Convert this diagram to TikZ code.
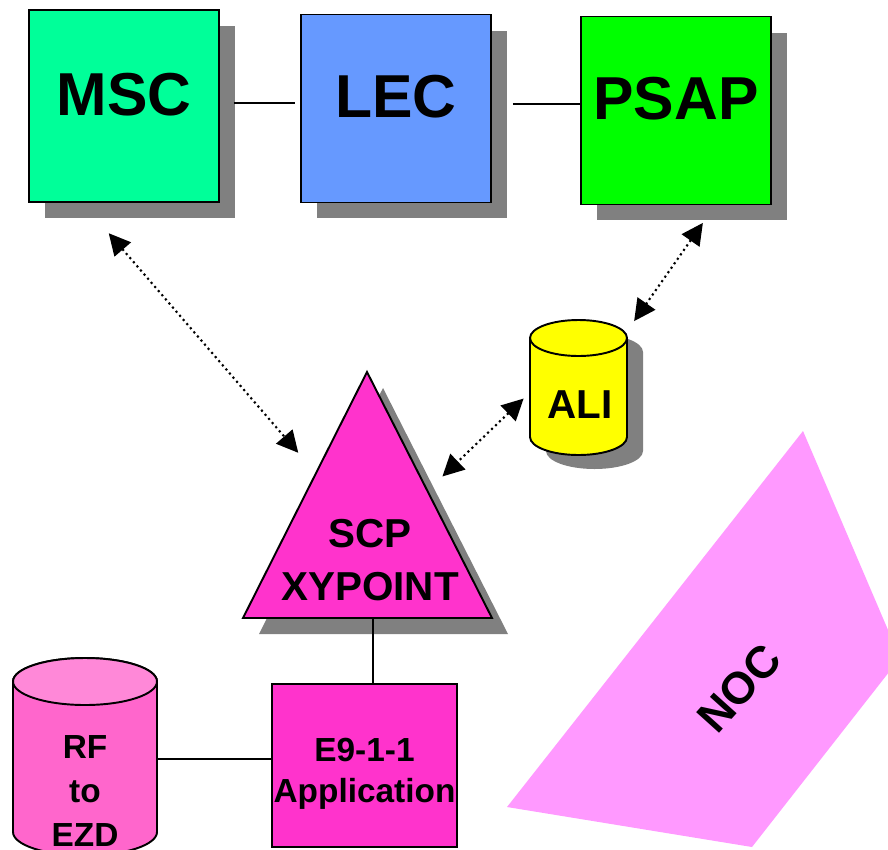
\documentclass[tikz,border=0pt]{standalone}
\usepackage{fontspec}
\setmainfont{Liberation Sans}
\usetikzlibrary{arrows.meta,shadows,positioning}

\begin{document}
\begin{tikzpicture}[x=0.02cm,y=0.02cm,
  bigbox/.style={draw=black,line width=1.1pt,minimum width=3.8cm,minimum height=3.76cm,
    text depth=0.48cm,font=\fontsize{34.5}{40}\selectfont\bfseries,
    drop shadow={shadow xshift=0.32cm,shadow yshift=-0.32cm,opacity=1,fill=cshadow}},
  lbl/.style={align=center,inner sep=0pt,font=\fontsize{23}{30.6}\selectfont\bfseries},
  smalllbl/.style={align=center,inner sep=0pt,font=\fontsize{19}{23.5}\selectfont\bfseries},
  toplink/.style={line width=1.7pt},
  link/.style={line width=0.9pt},
  dotlink/.style={line width=1.2pt,dash pattern=on 1.2pt off 1.9pt,
    {Triangle[length=0.43cm,width=0.43cm,sep=-0.1cm]}-{Triangle[length=0.43cm,width=0.43cm,sep=-0.1cm]}}]
%
\useasboundingbox (0,0) rectangle (888,-849);
\clip (0,0) rectangle (888,-849);
%
\definecolor{cshadow}{rgb}{0.502,0.502,0.502}
\definecolor{cmsc}{rgb}{0.0,1.0,0.6}
\definecolor{clec}{rgb}{0.4,0.6,1.0}
\definecolor{cpsap}{rgb}{0.0,1.0,0.0}
\definecolor{cscp}{rgb}{1.0,0.2,0.8}
\definecolor{cali}{rgb}{1.0,1.0,0.0}
\definecolor{crf}{rgb}{1.0,0.4,0.8}
\definecolor{crftop}{rgb}{1.0,0.533,0.847}
\definecolor{cnoc}{rgb}{1.0,0.6,1.0}
%
\node[bigbox,fill=cmsc,minimum height=3.84cm] (msc) at (124,-106) {MSC};
\node[bigbox,fill=clec] (lec) at (396,-108.5) {LEC};
\node[bigbox,fill=cpsap] (psap) at (676,-110.5) {PSAP};
%
\draw[toplink] ([shift={(14,3)}]msc.east) -- ([shift={(-5,3)}]msc.east -| lec.west);
\draw[toplink] ([shift={(21,4.5)}]lec.east) -- ([shift={(0,4.5)}]lec.east -| psap.west);
%
% SCP triangle
\fill[cshadow] (383,-388) -- (508,-634) -- (259,-634) -- cycle;
\draw[fill=cscp,line width=1.1pt] (367,-372) -- (492,-618) -- (243,-618) -- cycle;
\node[lbl] (scp) at (370,-560) {SCP\\XYPOINT};
\coordinate (scpbase) at (373,-618);
%
% ALI cylinder
\fill[cshadow] (546,-352) -- (546,-451) arc(180:360:48.5 and 18) -- (643,-352) arc(0:180:48.5 and 18) -- cycle;
\draw[fill=cali,line width=1.1pt] (530,-338) -- (530,-437) arc(180:360:48.5 and 18) -- (627,-338) arc(0:180:48.5 and 18) -- cycle;
\draw[line width=1.1pt] (530,-338) arc(180:360:48.5 and 18);
\node[lbl] (ali) at (580,-405) {ALI};
%
% RF cylinder
\draw[fill=crf,line width=1.1pt] (13,-681.5) -- (13,-832) arc(180:360:72 and 23.5) -- (157,-681.5) arc(0:180:72 and 23.5) -- cycle;
\draw[fill=crftop,line width=1.1pt] (85,-681.5) ellipse (72 and 23.5);
\node[smalllbl,minimum width=2.88cm,font=\fontsize{19}{25}\selectfont\bfseries] (rf) at (85,-791) {RF\\to\\EZD};
%
% E9-1-1 box
\node[draw=black,line width=1.1pt,fill=cscp,minimum width=3.7cm,minimum height=3.26cm,
  label={[smalllbl,yshift=-0.16cm]center:E9-1-1\\Application}] (app) at (364.5,-765.5) {};
%
\draw[link] (scpbase) -- (scpbase |- app.north);
\draw[link] ([yshift=0.13cm]app.west) -- ([yshift=0.13cm]app.west -| rf.east);
%
% NOC
\fill[cnoc] (803,-431) -- (900,-658) -- (752,-847) -- (507,-807) -- cycle;
\node[lbl,rotate=48,font=\fontsize{25.5}{30}\selectfont\bfseries] (noc) at (739,-688) {NOC};
%
% dotted arrows
\coordinate (m1) at (112,-237);
\coordinate (m2) at (295,-449);
\coordinate (p1) at (700,-227);
\coordinate (p2) at (637,-317);
\coordinate (a1) at (520,-402);
\coordinate (a2) at (446,-473);
\draw[dotlink] (m1) -- (m2);
\draw[dotlink] (p1) -- (p2);
\draw[dotlink] (a1) -- (a2);
%
\end{tikzpicture}
\end{document}
